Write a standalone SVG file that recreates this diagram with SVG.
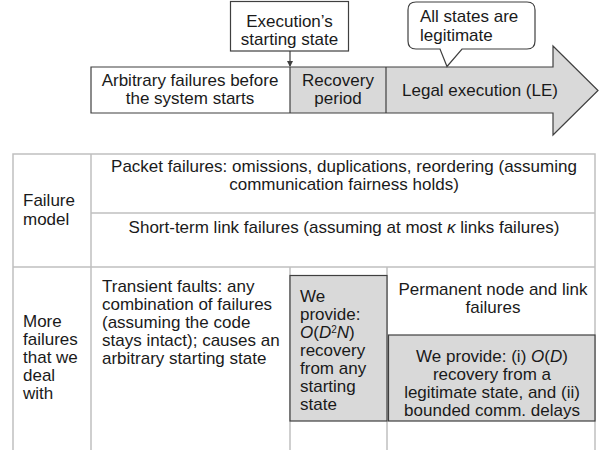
<svg xmlns="http://www.w3.org/2000/svg" width="605" height="450" viewBox="0 0 605 450">
<style>
text{font-family:"Liberation Sans",Arial,sans-serif;font-size:17px;fill:#1a1a1a}
.c{text-anchor:middle}
.i{font-style:italic}
.dk{stroke:#3f3f3f;stroke-width:1.2}
.tl{stroke:#c0c0c0;stroke-width:1.5;fill:none}
.gray{fill:#d9d9d9}
</style>
<defs>
<marker id="ah" markerWidth="6" markerHeight="6" refX="5" refY="3" orient="auto" markerUnits="userSpaceOnUse">
<path d="M0,0 L6,3 L0,6 Z" fill="#3f3f3f"/>
</marker>
</defs>
<rect width="605" height="450" fill="#fff"/>

<!-- timeline arrow -->
<g id="timeline">
<path class="gray" d="M91,67 H553 V46 L598,90.5 L553,135 V113 H91 Z"/>
<rect x="91" y="67" width="199" height="46" fill="#fff"/>
<path class="dk" fill="none" d="M91,67 H553 V46 L598,90.5 L553,135 V113 H91 Z"/>
</g>
<g id="arbitrary">
<text class="c" x="190" y="86">Arbitrary failures before</text>
<text class="c" x="190" y="104">the system starts</text>
</g>
<g id="recovery">
<line class="dk" x1="290" y1="67" x2="290" y2="113"/>
<text class="c" x="338" y="86">Recovery</text>
<text class="c" x="338" y="104">period</text>
</g>
<g id="legal">
<line class="dk" x1="386" y1="67" x2="386" y2="113"/>
<text class="c" x="480" y="96">Legal execution (LE)</text>
</g>
<g id="exec-start">
<rect class="dk" x="230.5" y="1.5" width="118" height="49.5" fill="#fff"/>
<text class="c" x="289.5" y="26.5">Execution’s</text>
<text class="c" x="289.5" y="45">starting state</text>
</g>
<g id="legit-callout">
<path class="dk" fill="#fff" d="M416,2 H527 Q535,2 535,10 V41 Q535,49 527,49 H462 L447,66.5 L440,49 H416 Q408,49 408,41 V10 Q408,2 416,2 Z"/>
<text x="420" y="22">All states are</text>
<text x="420" y="40.5">legitimate</text>
</g>
<g id="connectors">
<line class="dk" x1="290" y1="51" x2="290" y2="66" marker-end="url(#ah)"/>
</g>

<!-- table -->
<g id="table-grid">
<path class="tl" d="M13,450 V154 H595 V450 M91,154 V450 M91,213 H595 M13,267 H595 M290,267 V450 M387,267 V450"/>
</g>
<g id="failure-model">
<text x="23" y="206">Failure</text>
<text x="23" y="225">model</text>
</g>
<g id="packet">
<text class="c" x="344" y="172">Packet failures: omissions, duplications, reordering (assuming</text>
<text class="c" x="344" y="190">communication fairness holds)</text>
</g>
<g id="short-term">
<text class="c" x="344" y="233">Short-term link failures (assuming at most <tspan class="i">κ</tspan> links failures)</text>
</g>
<g id="more-failures">
<text x="23" y="327">More</text>
<text x="23" y="345">failures</text>
<text x="23" y="363">that we</text>
<text x="23" y="381">deal</text>
<text x="23" y="399">with</text>
</g>
<g id="transient">
<text x="102" y="292">Transient faults: any</text>
<text x="102" y="310">combination of failures</text>
<text x="102" y="328">(assuming the code</text>
<text x="102" y="346">stays intact); causes an</text>
<text x="102" y="364">arbitrary starting state</text>
</g>
<g id="provide-any">
<rect class="dk gray" x="290" y="275.5" width="97" height="145.5"/>
<text x="300" y="302">We</text>
<text x="300" y="320">provide:</text>
<text x="300" y="338"><tspan class="i">O</tspan>(<tspan class="i">D</tspan><tspan font-size="10" dy="-5">2</tspan><tspan class="i" dy="5">N</tspan>)</text>
<text x="300" y="356">recovery</text>
<text x="300" y="374">from any</text>
<text x="300" y="392">starting</text>
<text x="300" y="410">state</text>
</g>
<g id="permanent">
<text class="c" x="493" y="295">Permanent node and link</text>
<text class="c" x="493" y="313">failures</text>
</g>
<g id="provide-legit">
<rect class="dk gray" x="388.5" y="335" width="206.5" height="86"/>
<text class="c" x="492" y="362">We provide: (i) <tspan class="i">O</tspan>(<tspan class="i">D</tspan>)</text>
<text class="c" x="492" y="380">recovery from a</text>
<text class="c" x="492" y="398">legitimate state, and (ii)</text>
<text class="c" x="492" y="416">bounded comm. delays</text>
</g>
</svg>
